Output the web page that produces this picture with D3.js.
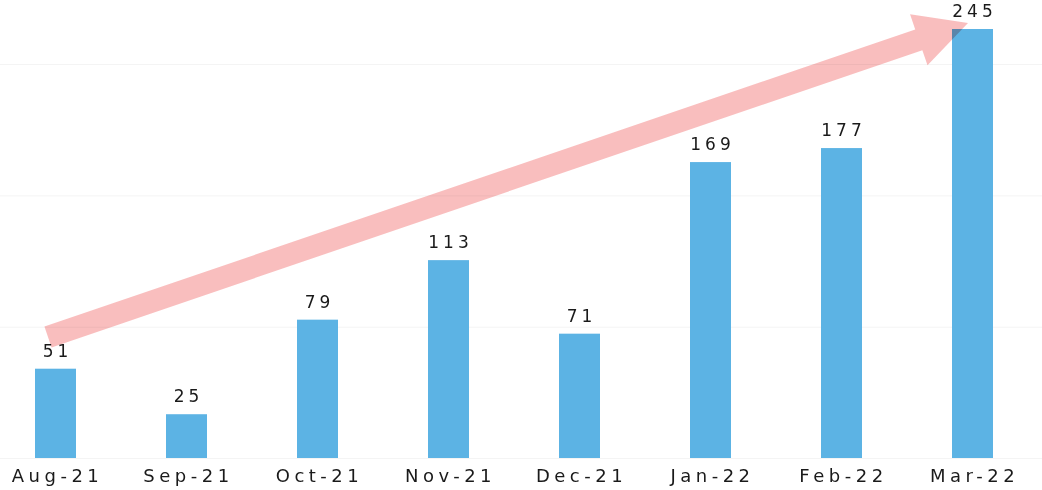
<!DOCTYPE html>
<html>
<head>
<meta charset="utf-8">
<script src="https://cdn.jsdelivr.net/npm/d3@7"></script>
<style>
  html, body { margin: 0; padding: 0; background: #fff; }
  svg { display: block; }
</style>
</head>
<body>
<div id="chart"></div>
<script>
// data
var months = ["Aug-21", "Sep-21", "Oct-21", "Nov-21", "Dec-21", "Jan-22", "Feb-22", "Mar-22"];
var counts = [51, 25, 79, 113, 71, 169, 177, 245];

var width = 1042, height = 490;
var baseY = 458;

var svg = d3.select("#chart").append("svg")
    .attr("width", width)
    .attr("height", height);

// scales
var x = d3.scaleBand().domain(months).range([-10, 1038]).paddingInner(0.687).paddingOuter(0.3435);
var y = d3.scaleLinear().domain([0, 245]).range([baseY, 29]);

// faint grid lines like the scan
svg.append("g")
  .selectAll("line")
  .data([0, 75, 150, 225])
  .enter().append("line")
    .attr("x1", 0).attr("x2", width)
    .attr("y1", function(d) { return y(d) + 0.5; })
    .attr("y2", function(d) { return y(d) + 0.5; })
    .attr("stroke", "#f4f4f4")
    .attr("stroke-width", 1);

// bars
svg.selectAll(".bar")
    .data(counts)
    .enter().append("rect")
    .attr("class", "bar")
    .attr("x", function(d, i) { return x(months[i]); })
    .attr("width", x.bandwidth())
    .attr("y", function(d) { return y(d); })
    .attr("height", function(d) { return baseY - y(d); })
    .attr("fill", "#5cb3e4");

// value labels
svg.selectAll(".val")
    .data(counts)
    .enter().append("text")
    .attr("class", "val")
    .attr("x", function(d, i) { return x(months[i]) + x.bandwidth() / 2 + 2; })
    .attr("y", function(d) { return y(d) - 12; })
    .attr("text-anchor", "middle")
    .style("font-family", "DejaVu Sans, sans-serif")
    .style("font-size", "17px")
    .style("letter-spacing", "4px")
    .attr("fill", "#1a1a1a")
    .text(function(d) { return d; });

// x axis labels
var xAxis = d3.axisBottom(x).tickSize(0).tickPadding(0);
var ax = svg.append("g")
    .attr("transform", "translate(0," + 482 + ")")
    .call(xAxis);
ax.select(".domain").remove();
ax.selectAll("text")
    .attr("dy", 0)
    .attr("dx", "2px")
    .style("font-family", "DejaVu Sans, sans-serif")
    .style("font-size", "18px")
    .style("letter-spacing", "4.5px")
    .attr("fill", "#1a1a1a");

// trend arrow from first bar to last bar
var x0 = 48, y0 = 337;
var x1 = 968, y1 = 23;
var ang = Math.atan2(y1 - y0, x1 - x0);
var len = Math.hypot(x1 - x0, y1 - y0);
var shaft = 11, headW = 27, headL = 52;
var pts = [
  [0, -shaft], [len - headL, -shaft], [len - headL, -headW],
  [len, 0],
  [len - headL, headW], [len - headL, shaft], [0, shaft]
];
svg.append("polygon")
    .attr("points", pts.map(function(p) { return p.join(","); }).join(" "))
    .attr("transform", "translate(" + x0 + "," + y0 + ") rotate(" + (ang * 180 / Math.PI) + ")")
    .attr("fill", "#f6a2a2")
    .attr("fill-opacity", 0.7)
    .style("mix-blend-mode", "multiply");
</script>
</body>
</html>
